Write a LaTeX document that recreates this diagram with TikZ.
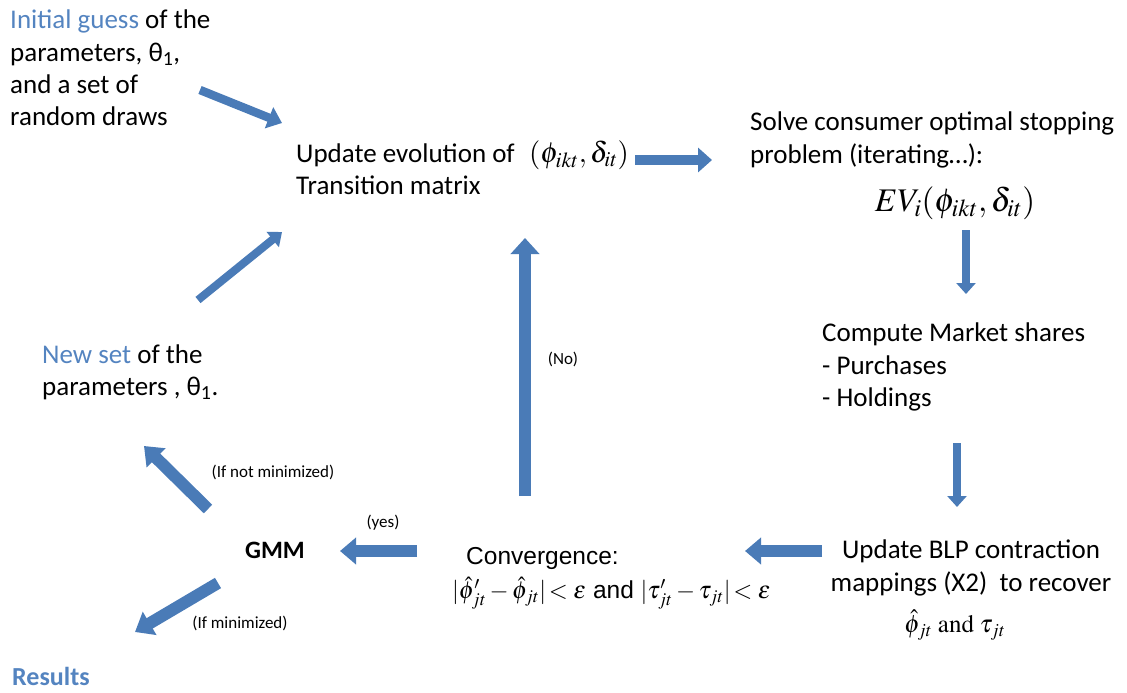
\documentclass[tikz,border=0pt]{standalone}
\usepackage{mathptmx}
\usepackage[no-math]{fontspec}
\setmainfont{Carlito}
\newfontfamily\arialfont{Liberation Sans}
\usetikzlibrary{arrows.meta}
\definecolor{arrfill}{RGB}{74,123,183}
\definecolor{txtblue}{RGB}{84,132,192}
\tikzset{
  barrow/.style n args={3}{draw=arrfill, line width=#1, -{Triangle[width=#2,length=#3]}},
  txt/.style={inner sep=0pt, align=left, anchor=west, font=\fontsize{27}{32.3}\selectfont},
  small/.style={inner sep=0pt, font=\fontsize{17}{20}\selectfont},
}
\begin{document}
\begin{tikzpicture}[x=1pt,y=-1pt]
\useasboundingbox (0,0) rectangle (1127,693);

% text nodes
\node[txt] (init) at (10,68) {\textcolor{txtblue}{Initial guess} of the\\parameters, θ\textsubscript{1},\\and a set of\\random draws};
\node[txt] (update) at (296,169) {Update evolution of\\Transition matrix};
\node[inner sep=0pt, anchor=west, font=\fontsize{29}{33}\selectfont] (updmath) at (529,155) {$(\phi_{ikt},\delta_{it})$};
\node[txt] (solve) at (750,140) {Solve consumer optimal stopping\\problem (iterating\ldots):};
\node[inner sep=0pt, font=\fontsize{33}{37}\selectfont] (ev) at (955,203) {$EV_i(\phi_{ikt},\delta_{it})$};
\node[txt] (compute) at (822,367) {Compute Market shares\\- Purchases\\- Holdings};
\node[txt, align=center, anchor=center] (blp) at (971,568) {Update BLP contraction\\mappings (X2)\ \ to recover};
\node[inner sep=0pt, font=\fontsize{25}{29}\selectfont] (blpmath) at (955,625) {$\hat{\phi}_{jt}\ \mathrm{and}\ \tau_{jt}$};
\node[inner sep=0pt, anchor=west, font=\arialfont\fontsize{24.5}{28}\selectfont] (conv1) at (466,558) {Convergence:};
\node[inner sep=0pt, anchor=west, font=\arialfont\fontsize{24.5}{28}\selectfont] (conv2) at (452,593) {$|\hat{\phi}'_{jt}-\hat{\phi}_{jt}|\!<\varepsilon$ and $|\tau'_{jt}-\tau_{jt}|\!<\varepsilon$};
\node[inner sep=0pt, font=\bfseries\fontsize{25}{29}\selectfont] (gmm) at (275,550) {GMM};
\node[txt] (newset) at (42,372) {\textcolor{txtblue}{New set} of the\\parameters , θ\textsubscript{1}.};
\node[inner sep=0pt, anchor=west, text=txtblue, font=\bfseries\fontsize{26}{30}\selectfont] (results) at (12,676) {Results};

% small labels
\node[small] (no) at (563,359) {(No)};
\node[small] (yes) at (383,523) {(yes)};
\node[small] (notmin) at (273,472) {(If not minimized)};
\node[small] (ismin) at (240,623) {(If minimized)};

% arrow end points
\coordinate (a1s) at (200,90);   \coordinate (a1e) at (282,123);
\coordinate (a2s) at (635,160);  \coordinate (a2e) at (712,160);
\coordinate (a3s) at (966,230);  \coordinate (a3e) at (966,294);
\coordinate (a4s) at (957,443);  \coordinate (a4e) at (957,507);
\coordinate (a5s) at (822,551);  \coordinate (a5e) at (745,551);
\coordinate (a6s) at (417,551);  \coordinate (a6e) at (340,551);
\coordinate (a7s) at (525,496);  \coordinate (a7e) at (525,238);
\coordinate (a8s) at (198,300);  \coordinate (a8e) at (282,232);
\coordinate (a9s) at (208,509);  \coordinate (a9e) at (144,446);
\coordinate (a10s) at (218,583); \coordinate (a10e) at (135,632);

% block arrows
\draw[barrow={8.5pt}{22pt}{14pt}] (a1s) -- (a1e);
\draw[barrow={10pt}{24pt}{14pt}] (a2s) -- (a2e);
\draw[barrow={8pt}{19pt}{11pt}] (a3s) -- (a3e);
\draw[barrow={8pt}{19pt}{11pt}] (a4s) -- (a4e);
\draw[barrow={12pt}{26pt}{16pt}] (a5s) -- (a5e);
\draw[barrow={12pt}{26pt}{16pt}] (a6s) -- (a6e);
\draw[barrow={12pt}{28pt}{16pt}] (a7s) -- (a7e);
\draw[barrow={8pt}{19pt}{12pt}] (a8s) -- (a8e);
\draw[barrow={12pt}{26pt}{17pt}] (a9s) -- (a9e);
\draw[barrow={12pt}{26pt}{17pt}] (a10s) -- (a10e);
\end{tikzpicture}
\end{document}
